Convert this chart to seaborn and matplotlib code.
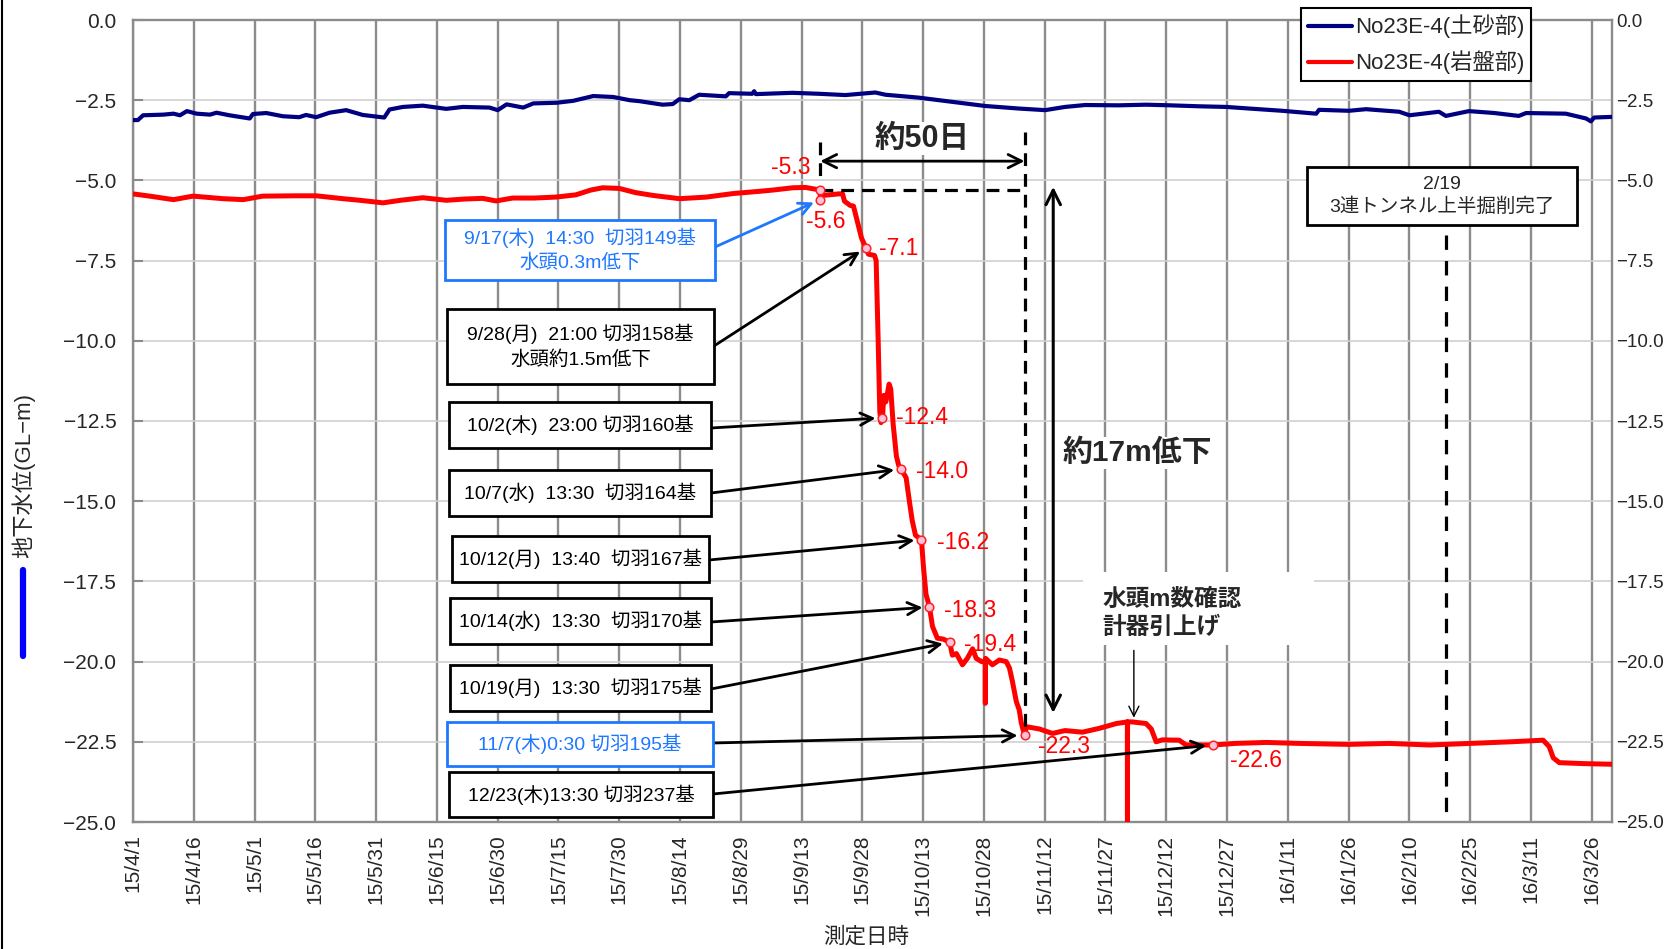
import numpy as np
import pandas as pd
import matplotlib
matplotlib.use("Agg")
import matplotlib.pyplot as plt
import matplotlib.ticker as mticker
from matplotlib.patches import Rectangle
from matplotlib.lines import Line2D
import seaborn as sns

START = pd.Timestamp("2015-04-01")
END = pd.Timestamp("2016-03-31")

# 土砂部 piezometer: elapsed days from 2015-04-01, level (GL-m)
soil_days = [0, 1.2, 2.5, 7.5, 10, 11.6, 13.3, 15.7, 19, 20.6, 23.8, 28.8, 29.6, 32.9,
             37, 41, 42.7, 45.2, 48.5, 52.6, 56.7, 62, 63.3, 66.6, 71.5, 77.3, 81.4,
             88, 90, 92.2, 96.3, 98.8, 104.5, 108.6, 113.6, 118.5, 122.6, 125, 130.7,
             133.2, 134.8, 137.3, 139.7, 146.3, 147.1, 152.8, 153.3, 153.7, 162.7,
             169.3, 175.8, 183.2, 185.7, 193.9, 202.1, 210.3, 218.6, 225.1, 230, 235,
             243.2, 250, 256, 263.1, 269.8, 275.5, 283.6, 292, 292.7, 300.1, 304.3,
             312.5, 315, 322.3, 324, 329.7, 336, 342, 343.8, 353.6, 358.6, 359.8,
             360.6, 365]
soil_level = [-3.12, -3.12, -2.97, -2.95, -2.92, -2.97, -2.84, -2.92, -2.95, -2.89, -2.97,
              -3.07, -2.93, -2.90, -3.00, -3.03, -2.96, -3.03, -2.89, -2.81, -2.96, -3.04,
              -2.79, -2.71, -2.67, -2.77, -2.71, -2.73, -2.81, -2.63, -2.73, -2.60, -2.58,
              -2.52, -2.37, -2.40, -2.50, -2.53, -2.64, -2.62, -2.47, -2.50, -2.33, -2.38,
              -2.28, -2.30, -2.22, -2.31, -2.27, -2.30, -2.34, -2.26, -2.33, -2.42, -2.55,
              -2.68, -2.76, -2.81, -2.71, -2.65, -2.66, -2.64, -2.66, -2.69, -2.71, -2.76,
              -2.83, -2.92, -2.80, -2.83, -2.78, -2.86, -2.97, -2.86, -2.99, -2.84, -2.90,
              -2.99, -2.90, -2.92, -3.07, -3.16, -3.04, -3.02]

# 岩盤部 piezometer: elapsed days from 2015-04-01, level (GL-m)
rock_days = [0, 4.1, 10, 14.8, 22.2, 27.2, 32, 40.3, 45.2, 51.8, 56, 61.7, 66, 71.5, 77.3,
             82, 86.3, 89.6, 93.7, 99, 104.4, 109.3, 113, 115.9, 120, 124, 128.4, 134.9,
             141.5, 148.1, 154.6, 158, 162.8, 166, 170.1, 174.2, 175.1, 175.6, 177.0,
             177.8, 178.8, 179.8, 181.5, 183.0, 183.4, 183.9, 184.3, 184.6, 185.3, 185.8,
             186.6, 187.0, 187.6, 188.4, 189.0, 190.8, 191.6, 192.3, 193.1, 195.1, 195.7,
             197.3, 198.5, 200, 202.2, 203.2, 204.7, 205.9, 207.2, 208.1, 209.4, 210.3,
             210.35, 210.4, 212.1, 213.8, 215.5, 216.3, 217.0, 218.0, 218.7, 219.2, 220.5,
             223.7, 226.9, 230, 234.3, 238.5, 242.7, 245.40, 245.42, 245.44, 246.6, 250,
             251.3, 252.5, 254, 258.2, 259.9, 263, 272, 279.7, 287.8, 300, 310, 320, 330,
             340, 348, 349.5, 350.5, 352, 358, 365]
rock_level = [-5.42, -5.49, -5.60, -5.49, -5.57, -5.60, -5.49, -5.48, -5.48, -5.57, -5.62,
              -5.70, -5.62, -5.54, -5.62, -5.58, -5.56, -5.64, -5.55, -5.55, -5.52, -5.45,
              -5.30, -5.23, -5.25, -5.38, -5.47, -5.57, -5.52, -5.41, -5.34, -5.30, -5.23,
              -5.22, -5.47, -5.42, -5.42, -5.65, -5.78, -5.80, -6.30, -6.80, -7.30, -7.34,
              -7.50, -10.0, -12.2, -12.55, -11.7, -11.9, -11.35, -11.5, -12.6, -13.6, -13.9,
              -14.27, -15.0, -15.6, -16.06, -17.08, -17.9, -18.9, -19.27, -19.3, -19.8,
              -19.75, -20.1, -19.9, -19.6, -19.9, -20.0, -20.0, -21.3, -19.9, -20.1, -19.95,
              -20.0, -20.2, -20.6, -21.25, -21.5, -21.9, -22.03, -22.1, -22.24, -22.15,
              -22.2, -22.08, -21.93, -21.88, -26.0, -21.88, -21.88, -21.93, -22.1, -22.5,
              -22.44, -22.45, -22.6, -22.6, -22.55, -22.52, -22.55, -22.58, -22.55, -22.6,
              -22.55, -22.5, -22.45, -22.65, -23.0, -23.15, -23.18, -23.2]

# Readings at the face-advance events
event_times = ["2015-09-17 14:30", "2015-09-17 14:30", "2015-09-28 21:00",
               "2015-10-02 23:00", "2015-10-07 13:30", "2015-10-12 13:40",
               "2015-10-14 13:30", "2015-10-19 13:30", "2015-11-07 00:30",
               "2015-12-23 13:30"]
event_levels = [-5.3, -5.6, -7.1, -12.4, -14.0, -16.2, -18.3, -19.4, -22.3, -22.6]

series_names = ["No23E-4(土砂部)", "No23E-4(岩盤部)"]
completion_date = "2016-02-19"

W, H = 1669, 949
sns.set_theme(style="white")
plt.rcParams["font.family"] = ["Liberation Sans", "Noto Sans CJK JP"]
plt.rcParams["axes.unicode_minus"] = True

def fx(px):
    return px / W

def fy(py):
    return 1 - py / H

to_time = lambda d: START + pd.to_timedelta(np.asarray(d, dtype=float), unit="D")

soil = pd.DataFrame({"time": to_time(soil_days), "level": soil_level})
rock = pd.DataFrame({"time": to_time(rock_days), "level": rock_level})
ev = pd.DataFrame({"time": pd.to_datetime(event_times), "level": event_levels})
rock_all = (pd.concat([rock, ev], ignore_index=True)
            .sort_values("time", kind="stable").reset_index(drop=True))

fig = plt.figure(figsize=(W / 100, H / 100), dpi=100)
ax = fig.add_axes([fx(133), fy(822), (1612 - 133) / W, (822 - 20) / H])

sns.lineplot(data=soil, x="time", y="level", ax=ax, color="#000080", lw=3.0,
             estimator=None, sort=False, zorder=3)
sns.lineplot(data=rock_all, x="time", y="level", ax=ax, color="#ff0000", lw=3.6,
             estimator=None, sort=False, zorder=4)
sns.scatterplot(data=ev, x="time", y="level", ax=ax, s=38, color="#ffc0dc",
                edgecolor="#ff2020", linewidth=1.1, zorder=6)

# Axes, ticks and grid
ax.set_xlim(START, END)
ax.set_ylim(-25, 0)
yt = np.arange(-25, 0.01, 2.5)
ax.set_yticks(yt)
fmt = mticker.FuncFormatter(lambda v, p: f"{v:.1f}".replace("-", "\u2212"))
ax.yaxis.set_major_formatter(fmt)
xt = [START + pd.Timedelta(days=15 * k) for k in range(25)]
ax.set_xticks(xt)
ax.set_xticklabels([f"{t.year % 100}/{t.month}/{t.day}" for t in xt], rotation=90,
                   fontsize=15)
ax.tick_params(axis="y", direction="in", length=7, width=1.5, color="#8a8a8a",
               labelsize=15, pad=12)
ax.tick_params(axis="x", length=0, pad=9)
ax.set_xlabel("")
ax.set_ylabel("")
ax.set_axisbelow(True)
ax.grid(axis="x", color="#8c8c8c", lw=1.7)
ax.grid(axis="y", color="#d0d0d0", lw=1.2)
for sp in ax.spines.values():
    sp.set_color("#8c8c8c")
    sp.set_linewidth(1.7)

ax2 = ax.twinx()
ax2.set_ylim(-25, 0)
ax2.set_yticks(yt)
ax2.yaxis.set_major_formatter(mticker.FuncFormatter(lambda v, p: f"{v:.1f}".replace("-", "\u2212")))
ax2.tick_params(axis="y", length=0, pad=3, labelsize=13.5)
ax2.grid(False)
for sp in ax2.spines.values():
    sp.set_visible(False)

# Value labels at each event reading
label_offsets = [(-10, 23, "right"), (-14, -22, "left"), (13, -1, "left"), (14, 0, "left"),
                 (15, -2, "left"), (16, -3, "left"), (15, -3, "left"), (14, -2, "left"),
                 (13, -11, "left"), (17, -15, "left")]
for (t, v), (dx, dy, ha) in zip(zip(ev["time"], ev["level"]), label_offsets):
    ax.annotate(f"{v:.1f}", xy=(t, v), xytext=(dx, dy), textcoords="offset pixels",
                ha=ha, va="center", color="#ff0000", fontsize=16.5, zorder=7)

# Event boxes on the left with arrows to the readings
boxes = [
    ("9/17(木)  14:30  切羽149基\n水頭0.3m低下", (445, 220, 715, 280), 247, 1, "#1e78ff", "#1e78ff"),
    ("9/28(月)  21:00 切羽158基\n水頭約1.5m低下", (447, 309, 714, 384), 346, 2, "black", "black"),
    ("10/2(木)  23:00 切羽160基", (449, 402, 711, 448), 428, 3, "black", "black"),
    ("10/7(水)  13:30  切羽164基", (449, 470, 711, 516), 493, 4, "black", "black"),
    ("10/12(月)  13:40  切羽167基", (452, 536, 709, 582), 560, 5, "black", "black"),
    ("10/14(水)  13:30  切羽170基", (450, 598, 711, 644), 622, 6, "black", "black"),
    ("10/19(月)  13:30  切羽175基", (450, 665, 711, 711), 689, 7, "black", "black"),
    ("11/7(木)0:30 切羽195基", (447, 722, 713, 766), 743, 8, "#1e78ff", "black"),
    ("12/23(木)13:30 切羽237基", (449, 772, 713, 817), 794, 9, "black", "black"),
]
for text, (x0, y0, x1, y1), ay, idx, col, acol in boxes:
    rect = Rectangle((fx(x0), fy(y1)), (x1 - x0) / W, (y1 - y0) / H,
                     transform=fig.transFigure, facecolor="white", edgecolor=col,
                     lw=2.0, zorder=5)
    fig.add_artist(rect)
    fig.text(fx((x0 + x1) / 2), fy((y0 + y1) / 2), text, ha="center", va="center",
             color=col, fontsize=14, linespacing=1.4, zorder=6)
    ax.annotate("", xy=(ev["time"][idx], ev["level"][idx]), xycoords="data",
                xytext=(fx(x1), fy(ay)), textcoords="figure fraction",
                arrowprops=dict(arrowstyle="->", color=acol, lw=2.0, shrinkA=0,
                                shrinkB=5, mutation_scale=22),
                annotation_clip=False, zorder=5)

# 約50日 span
t_start = ev["time"][0]
t_end = ev["time"][8]
dash = (0, (4, 2.5))
ax.plot([t_start, t_end], [event_levels[0], event_levels[0]], color="black", lw=2.3,
        linestyle=dash, zorder=5)
ax.plot([t_end, t_end], [-3.5, event_levels[8]], color="black", lw=2.3, linestyle=dash, zorder=5)
ax.plot([t_start, t_start], [-3.8, -4.85], color="black", lw=2.3, linestyle=dash, zorder=5)
ax.annotate("", xy=(t_start, -4.4), xytext=(t_end, -4.4),
            arrowprops=dict(arrowstyle="<->", color="black", lw=2.0, shrinkA=0,
                            shrinkB=0, mutation_scale=24), zorder=5)
ax.text(t_start + (t_end - t_start) / 2, -3.7, "約50日", ha="center", va="center",
        fontsize=22, fontweight="bold", zorder=5,
        bbox=dict(facecolor="white", edgecolor="none", pad=1))

# 約17m低下 span
t_17 = START + pd.Timedelta(days=227.1)
ax.annotate("", xy=(t_17, -5.2), xytext=(t_17, -21.6),
            arrowprops=dict(arrowstyle="<->", color="black", lw=2.2, shrinkA=0,
                            shrinkB=0, mutation_scale=26), zorder=5)
ax.text(START + pd.Timedelta(days=247.9), -13.5, "約17m低下", ha="center", va="center",
        fontsize=21.5, fontweight="bold", zorder=5,
        bbox=dict(facecolor="white", edgecolor="none", pad=1))

# Instrument retrieval note
note_bg = Rectangle((fx(1083), fy(645)), (1314 - 1083) / W, (645 - 572) / H,
                    transform=fig.transFigure, facecolor="white", edgecolor="none",
                    zorder=1.5)
ax.add_artist(note_bg)
ax.text(START + pd.Timedelta(days=239.2), -18.5, "水頭m数確認\n計器引上げ", ha="left",
        va="center", fontsize=17, fontweight="bold", linespacing=1.3, zorder=5)
t_pull = START + pd.Timedelta(days=247.0)
ax.annotate("", xy=(t_pull, -21.75), xytext=(t_pull, -19.65),
            arrowprops=dict(arrowstyle="->", color="black", lw=1.0, shrinkA=0,
                            shrinkB=0, mutation_scale=18), zorder=5)

# Upper-half excavation completion
t_fin = pd.Timestamp(completion_date)
ax.plot([t_fin, t_fin], [-6.7, -24.9], color="black", lw=2.3, linestyle=(0, (4.5, 3.5)),
        zorder=5)
fig.add_artist(Rectangle((fx(1307), fy(225)), (1577 - 1307) / W, (225 - 167) / H,
                         transform=fig.transFigure, facecolor="white", edgecolor="black",
                         lw=2.0, zorder=5))
fig.text(fx(1442), fy(196), "2/19\n3連トンネル上半掘削完了", ha="center", va="center",
         fontsize=14, linespacing=1.35, zorder=6)

# Legend
handles = [Line2D([], [], color="#000080", lw=3), Line2D([], [], color="#ff0000", lw=3)]
leg = fig.legend(handles, series_names, loc="upper left",
                 bbox_to_anchor=(fx(1301), fy(8)), fontsize=16, frameon=True,
                 fancybox=False, edgecolor="black", framealpha=1, handlelength=2.0,
                 handletextpad=0.15, borderpad=0.3, labelspacing=0.55,
                 borderaxespad=0)
leg.get_frame().set_linewidth(1.5)
leg.set_zorder(10)

# Axis titles
fig.text(fx(23), fy(475), "地下水位(GL\u2212m)", rotation=90, ha="center", va="center",
         fontsize=16)
fig.add_artist(Line2D([fx(23), fx(23)], [fy(570), fy(656)], color="#0000ff", lw=4.5))
fig.text(fx(866), fy(937), "測定日時", ha="center", va="center", fontsize=15.5)
fig.add_artist(Line2D([fx(2), fx(2)], [0, 1], color="black", lw=1.5))

fig.savefig("out.png", dpi=100, facecolor="white")
